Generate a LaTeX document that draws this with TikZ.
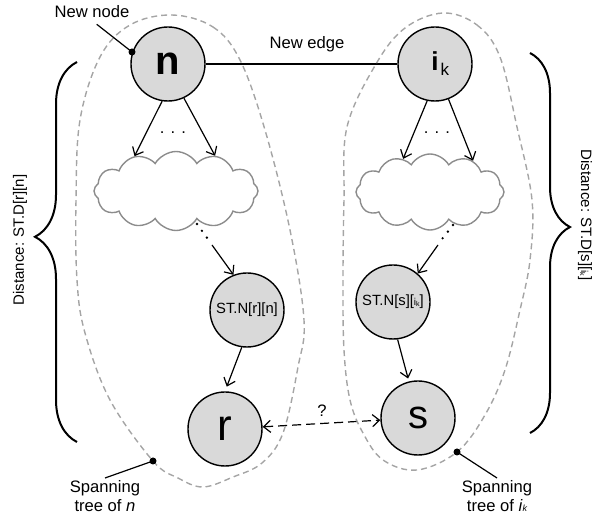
\documentclass[tikz,border=0pt]{standalone}
\usepackage{fontspec}
\setmainfont{Liberation Sans}
\usetikzlibrary{arrows.meta,shapes.symbols,decorations.pathreplacing}
\definecolor{nodegray}{RGB}{217,217,217}
\definecolor{treegray}{RGB}{165,165,165}
\definecolor{cloudgray}{RGB}{140,140,140}

\begin{document}
\begin{tikzpicture}[x=0.5pt, y=-0.5pt,
    vertex/.style={circle, draw, line width=0.7pt, fill=nodegray, minimum size=37pt, inner sep=0pt},
    subtree/.style={cloud, cloud puffs=12, cloud puff arc=120, draw=cloudgray, line width=0.7pt, inner sep=0pt},
    spantree/.style={draw=treegray, line width=0.7pt, dash pattern=on 3pt off 2pt},
    link/.style={line width=0.6pt, -{Straight Barb[length=3.5pt, width=6pt]}},
    dotpath/.style={line width=1.3pt, line cap=round, dash pattern=on 0pt off 4.2pt},
    lbl/.style={font=\fontsize{8.3}{9.5}\selectfont, inner sep=1pt},
    bracket/.style 2 args={line width=1pt, decorate, decoration={brace, amplitude=#1, aspect=#2}},
]
\useasboundingbox (0,0) rectangle (601,518);
    % the four tree nodes.
    \node[vertex] (n) at (168,64) {\fontsize{20}{20}\selectfont\bfseries n};
    \node[vertex] (ik) at (435,64) {\fontsize{13}{13}\selectfont\bfseries i\makebox[0pt][l]{\kern1pt\raisebox{-2.5pt}{\fontsize{8.5}{8.5}\selectfont\mdseries k}}};
    \node[vertex] (r) at (225,429) {\fontsize{22}{22}\selectfont r};
    \node[vertex] (s) at (418,418) {\fontsize{20}{20}\selectfont s};
    % the two parent nodes.
    \node[vertex] (stnr) at (247,310) {\fontsize{7.4}{8}\selectfont ST.N[r][n]};
    \node[vertex] (stns) at (393,302) {\fontsize{7.4}{8}\selectfont ST.N[s][{\fontsize{5}{5}\selectfont i\raisebox{-0.5pt}{\fontsize{3.5}{4}\selectfont k}}]};
    % subtrees.
    \node[subtree, minimum width=82pt, minimum height=39.5pt] (lcloud) at (176,191) {};
    \node[subtree, minimum width=74pt, minimum height=38pt] (rcloud) at (430,192) {};
    % new edge.
    \draw[line width=1pt] (n) -- (ik);
    \node[lbl, anchor=base] (edgelabel) at (307,49) {New edge};
    % children of n and i_k.
    \draw[link] (n.261) -- (lcloud.140);
    \draw[link] (n.295) -- (lcloud.42);
    \node[lbl] (ldots) at (173,133) {. . .};
    \draw[link] (ik.258) -- (rcloud.129);
    \draw[link] (ik.291) -- (rcloud.36);
    \node[lbl] (rdots) at (437,133) {. . .};
    % paths down to the parents.
    \coordinate (lfade) at (197,224);
    \coordinate (lgap) at (207.5,238.5);
    \coordinate (lstem) at (212,245);
    \draw[dotpath] (lfade) -- (lgap);
    \draw[link] (lstem) -- (stnr.111);
    \coordinate (rfade) at (453,225);
    \coordinate (rgap) at (442.5,238.5);
    \coordinate (rstem) at (438,245);
    \draw[dotpath] (rfade) -- (rgap);
    \draw[link] (rstem) -- (stns.49);
    \draw[link, shorten >=2.5pt] (stnr.262) -- (r.north);
    \draw[link, shorten >=1.5pt] (stns.277) -- (s.104);
    % unknown path between r and s.
    \draw[line width=0.6pt, dash pattern=on 4.5pt off 2.5pt,
        {Straight Barb[length=3.5pt, width=6pt]}-{Straight Barb[length=3.5pt, width=6pt]}] (r) -- (s);
    \node[lbl, anchor=base] (ask) at (322,417) {?};
    % distance braces.
    \draw[bracket={21pt}{0.54}] (77,442) -- (77,62);
    \draw[bracket={20pt}{0.458}] (530,53) -- (530,433);
    \node[lbl, rotate=90] (ldist) at (20,240) {\fontsize{7.5}{8}\selectfont Distance: ST.D[r][n]};
    \node[lbl, rotate=-90] (rdist) at (585,215) {\fontsize{7.5}{8}\selectfont Distance: ST.D[s][{\fontsize{5}{5}\selectfont i\raisebox{-0.5pt}{\fontsize{3.5}{4}\selectfont k}}]};
    % spanning trees.
    \draw[spantree] plot[smooth cycle, tension=0.6] coordinates {
        (172,15) (213,27) (240,60) (265,130) (290,230) (304,320) (298,367)
        (283,433) (262,463) (233,477) (203,487) (178,478) (153,461) (110,400)
        (85,333) (77,280) (76,200) (80,120) (100,57) (130,25)};
    \draw[spantree] plot[smooth cycle, tension=0.6] coordinates {
        (443,13) (477,25) (500,57) (517,127) (532,200) (530,260) (520,310)
        (505,370) (485,415) (457,452) (417,470) (383,460) (363,433) (350,400)
        (344,350) (343,280) (344,200) (347,127) (376,64) (405,28)};
    % callouts.
    \node[lbl, anchor=base] (newlabel) at (92,18) {New node};
    \coordinate (newdot) at (132,52);
    \fill (newdot) circle (3.5);
    \draw[line width=0.6pt, shorten >=3pt] (newdot) -- (newlabel.south);
    \node[lbl, align=center, anchor=north] (lspan) at (105,478) {Spanning\\tree of \textit{n}};
    \coordinate (ldot) at (153,461);
    \fill (ldot) circle (3.5);
    \draw[line width=0.6pt] (ldot) -- (lspan.north);
    \node[lbl, align=center, anchor=north] (rspan) at (497,478) {Spanning\\tree of \textit{i}{\fontsize{4.5}{5}\selectfont\itshape k}};
    \coordinate (rdot) at (457,452);
    \fill (rdot) circle (3.5);
    \draw[line width=0.6pt] (rdot) -- (rspan.north);
\end{tikzpicture}
\end{document}
